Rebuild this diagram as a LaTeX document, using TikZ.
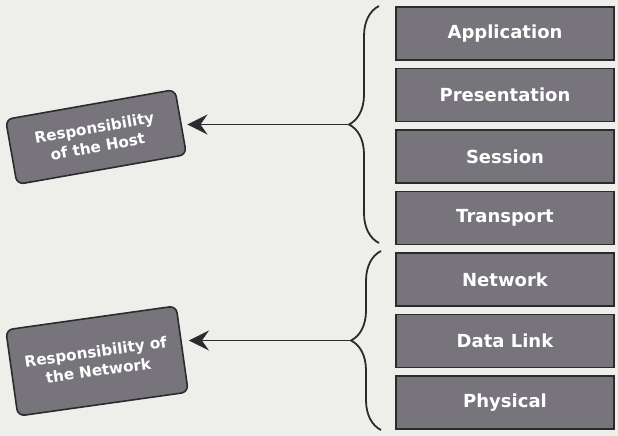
\documentclass[tikz,border=0pt]{standalone}
\usepackage{fontspec}
\setmainfont{DejaVu Sans}
\usetikzlibrary{arrows.meta,decorations.pathreplacing}
\definecolor{paper}{HTML}{EEEEEA}
\definecolor{layerfill}{HTML}{77757B}
\definecolor{edge}{HTML}{2B2B2E}
\begin{document}
\begin{tikzpicture}[x=1pt,y=-1pt,
  layer/.style={draw=edge, line width=1.6pt, fill=layerfill,
    minimum width=218pt, minimum height=53pt, inner sep=0pt,
    text=white, font=\fontsize{18}{21}\selectfont\bfseries},
  role/.style={draw=edge, line width=1.6pt, fill=layerfill, rounded corners=7pt,
    text=white, font=\fontsize{15.2}{19}\selectfont\bfseries, align=center, inner sep=0pt},
  link/.style={edge, line width=1.8pt, shorten >=6pt,
    -{Stealth[length=20pt,width=20pt,inset=7pt]}},
  bracket/.style={edge, line width=1.8pt, decorate,
    decoration={brace, amplitude=30pt}}]
\fill[paper] (0,0) rectangle (618,436);
\useasboundingbox (0,0) rectangle (618,436);

% OSI layer stack
\node[layer] (app)  at (505,33.5)  {Application};
\node[layer] (pres) at (505,95)    {Presentation};
\node[layer] (sess) at (505,156.5) {Session};
\node[layer] (tran) at (505,218)   {Transport};
\node[layer] (netw) at (505,279.5) {Network};
\node[layer] (dlnk) at (505,341)   {Data Link};
\node[layer] (phys) at (505,402.5) {Physical};

% responsibility labels
\node[role, rotate=10, minimum width=172pt, minimum height=66pt] (host) at (96,137)
  {Responsibility\\of the Host};
\node[role, rotate=8, minimum width=172pt, minimum height=87pt] (net) at (97,361)
  {Responsibility of\\the Network};

% braces grouping the layers
\draw[bracket] (379,243) -- (379,6);
\draw[bracket] (381,430) -- (381,251);
\coordinate (hostTip) at (349,124.5);
\coordinate (netTip)  at (351,340.5);

% arrows to the labels
\draw[link] (hostTip) -- (hostTip -| host.east);
\draw[link] (netTip) -- (netTip -| net.east);
\end{tikzpicture}
\end{document}
